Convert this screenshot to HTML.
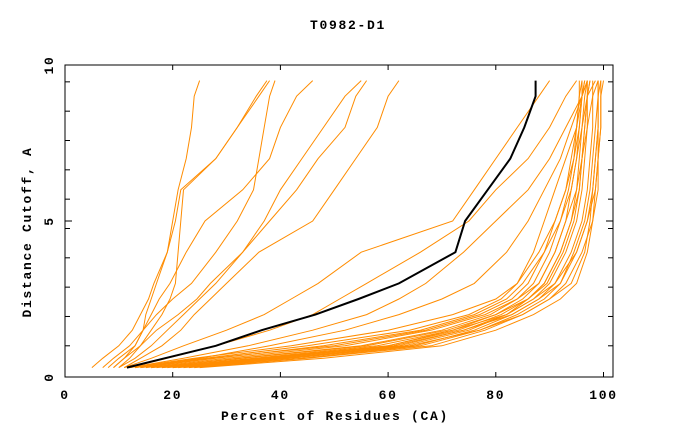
<!DOCTYPE html>
<html><head><meta charset="utf-8"><style>
body{margin:0;background:#fff}
svg{display:block}
text{font-family:"Liberation Mono",monospace;font-weight:bold;font-size:13px;letter-spacing:1.7px;fill:#000}
</style></head><body>
<svg id="chart" width="680" height="440" viewBox="0 0 680 440" xmlns="http://www.w3.org/2000/svg">
<text x="348" y="29" text-anchor="middle">T0982-D1</text>
<text x="335" y="420" text-anchor="middle">Percent of Residues (CA)</text>
<text x="0" y="0" text-anchor="middle" transform="translate(31,232) rotate(-90)">Distance Cutoff, A</text>
<g id="series"></g>
<g id="axes"></g>
</svg>
<script>
const yLevels=[0.3,0.6,1,1.5,2,2.5,3,4,5,6,7,8,9,9.5];
const xTicks=[0,20,40,60,80,100];
const yTickLabels=[0,5,10];
const blackSeries=[11.5,18.5,28,36.5,46.5,54.5,62,72.5,74.3,78.5,82.7,85.3,87.4,87.4];
const orangeSeries=[
[8,10,13,14.5,15,16,17,19,20,21,22.5,23.5,24,25],
[10,12,14,16,18,19.5,20.5,21,21.5,22,28,32,35.5,37.5],
[9,11,13,14.5,16,17.5,19.5,22.5,26,33,38,40,43,46],
[7,9,12,14.5,17,20,23.5,28,32,35,36,37,38,39],
[10,13,16,19,22,25,28,33,37,40,44,48,52,55],
[9,11,14,17,21,24.5,27,33,38,43,47,52,54,56],
[11,14,18,21.5,24,27,30,36,46,50,54,58,60,62],
[5,7,10,12.5,14,15.5,16.5,19,20.5,21.5,28,32,36,38],
[11,16,22,30,37,42,47,55,72,76,80,84,88,90],
[12,19,28,38,46,51,56,66,75,80,86,90,93,95],
[12,22,34,46,56,62,67,74,80,86,90,93,96,97],
[13,25,38,52,62,70,76,82,86,89,92,94,96,97],
[14,28,48,66,76,82,85,89,91,93,94,95,95.5,96],
[16,32,55,70,79,84,88,91,93,94,95,95.5,96,96.5],
[18,36,60,73,81,86,89,92,94,95,95.5,96,96.5,97],
[20,40,63,75,82,87,90,93,95,96,96.5,97,97,97.5],
[22,42,65,76,83,88,91,94,96,97,97.5,98,98,98],
[15,30,52,68,78,84,87,90,92,94,95,96,97,98.5],
[17,35,58,72,80,85,88,91,93,95,96,97,98,99],
[24,45,68,78,85,90,93,96,98,99,99,99.5,99.5,99.5],
[13,26,45,64,75,81,84,87,89,91,93,95,96,96],
[19,38,62,74,82,87,91,95,97,98.5,99,99.5,99.5,100],
[25,48,70,80,87,92,95,97,98,98.5,99,99,99,99],
[21,41,64,77,84,89,92,94.5,96.5,97.5,98,98.5,99,99],
[16,33,56,71,80,86,89.5,92.5,94.5,95.5,96,96.5,97,97],
[18,37,61,74,83,88,92,95,97,98,98.5,99,99,99.5],
[23,44,66,77,85,90,94,96.5,97.5,98,98.5,99,99,99],
[14,27,50,67,77,83,86,89,92,93.5,94.5,95,95.5,95.5],
[20,39,60,72,82,86,89,92,94,95.5,96,96.5,97,97.5],
[12,24,42,60,72,80,84,88,91,93,94.5,95.5,96,96.5]
];
const L=65,R=613,T=65,B=377;
const xs=v=>65+v*5.385;
const ys=v=>377-v*31.2;
const NS="http://www.w3.org/2000/svg";
const sg=document.getElementById('series');
function pts(arr){return arr.map((x,i)=>xs(x).toFixed(1)+','+ys(yLevels[i]).toFixed(1)).join(' ');}
orangeSeries.forEach((s,i)=>{
  const p=document.createElementNS(NS,'polyline');
  p.setAttribute('points',pts(s));
  p.setAttribute('fill','none');p.setAttribute('stroke','#ff8c00');p.setAttribute('stroke-width','1');
  
  
  sg.appendChild(p);
});
const bl=document.createElementNS(NS,'polyline');
bl.setAttribute('points',pts(blackSeries));
bl.setAttribute('fill','none');bl.setAttribute('stroke','#000');bl.setAttribute('stroke-width','2');


sg.appendChild(bl);
const ax=document.getElementById('axes');
const fr=document.createElementNS(NS,'rect');
fr.setAttribute('x',L);fr.setAttribute('y',T);fr.setAttribute('width',R-L);fr.setAttribute('height',B-T);
fr.setAttribute('fill','none');fr.setAttribute('stroke','#000');fr.setAttribute('stroke-width','1');


ax.appendChild(fr);
function line(x1,y1,x2,y2,name){const l=document.createElementNS(NS,'line');l.setAttribute('x1',x1);l.setAttribute('y1',y1);l.setAttribute('x2',x2);l.setAttribute('y2',y2);l.setAttribute('stroke','#000');


ax.appendChild(l);}
xTicks.forEach(t=>{const x=xs(t);line(x,B,x,B-5,'x-tick');line(x,T,x,T+5,'x-tick-top');
 const tx=document.createElementNS(NS,'text');tx.setAttribute('x',x);tx.setAttribute('y',B+22);tx.setAttribute('text-anchor','middle');tx.textContent=t;
 
 
 ax.appendChild(tx);});
for(let v=1;v<=9.7;v+=0.94){const y=ys(v);line(L,y,L+5,y,'y-tick');line(R,y,R-5,y,'y-tick-right');}
yTickLabels.forEach(t=>{const y=ys(t);line(L,y,L+7,y,'y-major-tick');line(R,y,R-7,y,'y-major-tick-right');
 const tx=document.createElementNS(NS,'text');tx.setAttribute('x',0);tx.setAttribute('y',0);tx.setAttribute('text-anchor','middle');
 tx.setAttribute('transform','translate('+(L-12)+','+y+') rotate(-90)');tx.textContent=t;
 
 
 ax.appendChild(tx);});
</script>
</body></html>
